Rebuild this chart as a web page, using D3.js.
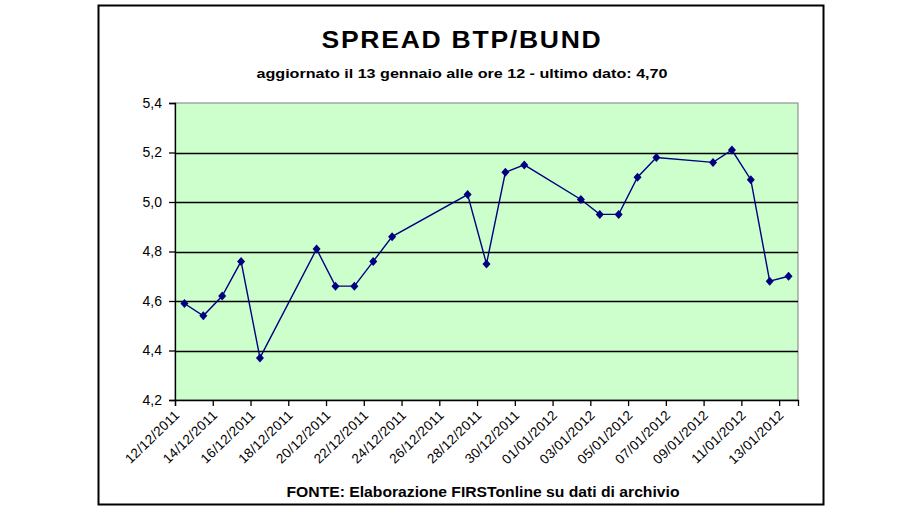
<!DOCTYPE html>
<html>
<head>
<meta charset="utf-8">
<script src="https://cdn.jsdelivr.net/npm/d3@7"></script>
<style>
  html, body { margin: 0; padding: 0; background: #fff; }
  svg { display: block; }
  text { font-family: "Liberation Sans", Arial, sans-serif; }
</style>
</head>
<body>
<svg id="chart" width="920" height="510"></svg>
<script>
// ---- data ----
const title = "SPREAD BTP/BUND";
const subtitle = "aggiornato il 13 gennaio alle ore 12 - ultimo dato: 4,70";
const source = "FONTE: Elaborazione FIRSTonline su dati di archivio";

const dates = [
  "12/12/2011", "13/12/2011", "14/12/2011", "15/12/2011", "16/12/2011",
  "19/12/2011", "20/12/2011", "21/12/2011", "22/12/2011", "23/12/2011",
  "27/12/2011", "28/12/2011", "29/12/2011", "30/12/2011",
  "02/01/2012", "03/01/2012", "04/01/2012", "05/01/2012", "06/01/2012",
  "09/01/2012", "10/01/2012", "11/01/2012", "12/01/2012", "13/01/2012"
];
const spread = [
  4.59, 4.54, 4.62, 4.76, 4.37,
  4.81, 4.66, 4.66, 4.76, 4.86,
  5.03, 4.75, 5.12, 5.15,
  5.01, 4.95, 4.95, 5.10, 5.18,
  5.16, 5.21, 5.09, 4.68, 4.70
];
const xDomain = ["12/12/2011", "14/01/2012"];
const yTicks = [4.2, 4.4, 4.6, 4.8, 5.0, 5.2, 5.4];

// ---- layout ----
const parse = d3.timeParse("%d/%m/%Y");
const fmt = d3.timeFormat("%d/%m/%Y");
const svg = d3.select("#chart");
const L = 175, R = 798, T = 103, B = 400;

svg.append("rect").attr("x", 98.5).attr("y", 5.5).attr("width", 725).attr("height", 499)
  .attr("fill", "#fff").attr("stroke", "#000").attr("stroke-width", 2);

const x = d3.scaleTime().domain(xDomain.map(parse)).range([L, R]);
const y = d3.scaleLinear().domain([4.2, 5.4]).range([B, T]);

// plot background
svg.append("rect").attr("x", L).attr("y", T).attr("width", R - L).attr("height", B - T)
  .attr("fill", "#CCFFCC").attr("stroke", "#808080").attr("stroke-width", 1);

// gridlines
svg.append("g").selectAll("line").data(yTicks.slice(1, -1)).join("line")
  .attr("x1", L).attr("x2", R)
  .attr("y1", d => Math.round(y(d)) + 0.5).attr("y2", d => Math.round(y(d)) + 0.5)
  .attr("stroke", "#000").attr("stroke-width", 1.3);

// y axis
const yAxis = d3.axisLeft(y).tickValues(yTicks).tickSize(6).tickPadding(7)
  .tickFormat(d => d3.format(".1f")(d).replace(".", ","));
const gy = svg.append("g").attr("transform", `translate(${L},0)`).call(yAxis);
gy.select(".domain").attr("stroke", "#000").attr("stroke-width", 1.3);
gy.selectAll(".tick line").attr("stroke", "#000").attr("stroke-width", 1.3);
gy.selectAll(".tick text").attr("font-size", 14).attr("fill", "#000")
  .attr("font-family", "'Liberation Sans', Arial, sans-serif");

// x axis
const xTickDates = d3.timeDay.every(1).range(parse("12/12/2011"), parse("14/01/2012"))
  .filter((d, i) => i % 2 === 0);
const xAxis = d3.axisBottom(x).tickValues(xTickDates).tickSize(6).tickFormat(fmt);
const gx = svg.append("g").attr("transform", `translate(0,${B})`).call(xAxis);
gx.select(".domain").attr("stroke", "#000").attr("stroke-width", 1.3);
gx.selectAll(".tick line").attr("stroke", "#000").attr("stroke-width", 1.3);
gx.selectAll(".tick text")
  .attr("font-size", 13.5).attr("fill", "#000").attr("letter-spacing", 0.3)
  .attr("font-family", "'Liberation Sans', Arial, sans-serif")
  .attr("text-anchor", "end")
  .attr("dy", null).attr("y", 0)
  .attr("transform", "translate(5,16) rotate(-44)");

// line + markers
const pts = dates.map((d, i) => ({ date: d3.timeHour.offset(parse(d), 12), v: spread[i] }));
svg.append("path").datum(pts)
  .attr("fill", "none").attr("stroke", "#000080").attr("stroke-width", 1.4)
  .attr("d", d3.line().x(d => x(d.date)).y(d => y(d.v)));
svg.append("g").selectAll("path").data(pts).join("path")
  .attr("transform", d => `translate(${x(d.date)},${y(d.v)})`)
  .attr("d", "M0,-4.5L4,0L0,4.5L-4,0Z")
  .attr("fill", "#000080");

// texts
svg.append("text").attr("x", 462).attr("y", 48).attr("text-anchor", "middle")
  .attr("font-size", 23).attr("font-weight", "bold").attr("letter-spacing", 1.5)
  .attr("textLength", 281).attr("lengthAdjust", "spacingAndGlyphs").text(title);
svg.append("text").attr("x", 462).attr("y", 78).attr("text-anchor", "middle")
  .attr("font-size", 13).attr("font-weight", "bold")
  .attr("textLength", 411).attr("lengthAdjust", "spacingAndGlyphs").text(subtitle);
svg.append("text").attr("x", 483).attr("y", 497).attr("text-anchor", "middle")
  .attr("font-size", 14).attr("font-weight", "bold")
  .attr("textLength", 393).attr("lengthAdjust", "spacingAndGlyphs").text(source);
</script>
</body>
</html>
